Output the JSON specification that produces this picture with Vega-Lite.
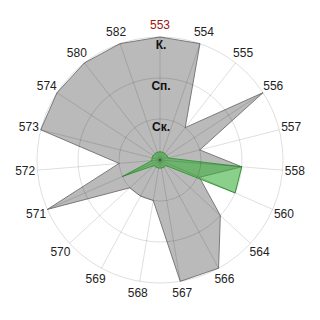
{
  "$schema": "https://vega.github.io/schema/vega-lite/v6.json",
  "width": 320,
  "height": 320,
  "autosize": {"type": "fit", "contains": "padding"},
  "padding": 0,
  "config": {"view": {"stroke": null}, "font": "Liberation Sans"},
  "datasets": {
    "cats": [
      {"cat": "553", "i": 0, "gray": 3, "green": 0.2},
      {"cat": "554", "i": 1, "gray": 3, "green": 0.2},
      {"cat": "555", "i": 2, "gray": 1, "green": 0.2},
      {"cat": "556", "i": 3, "gray": 3, "green": 0.2},
      {"cat": "557", "i": 4, "gray": 1, "green": 0.2},
      {"cat": "558", "i": 5, "gray": 2, "green": 2},
      {"cat": "560", "i": 6, "gray": 1.05, "green": 2},
      {"cat": "564", "i": 7, "gray": 2, "green": 0.2},
      {"cat": "566", "i": 8, "gray": 3, "green": 0.2},
      {"cat": "567", "i": 9, "gray": 3, "green": 0.2},
      {"cat": "568", "i": 10, "gray": 1, "green": 0.2},
      {"cat": "569", "i": 11, "gray": 1, "green": 0.2},
      {"cat": "570", "i": 12, "gray": 1, "green": 0.2},
      {"cat": "571", "i": 13, "gray": 3, "green": 1},
      {"cat": "572", "i": 14, "gray": 1, "green": 0.2},
      {"cat": "573", "i": 15, "gray": 3, "green": 0.2},
      {"cat": "574", "i": 16, "gray": 3, "green": 0.2},
      {"cat": "580", "i": 17, "gray": 3, "green": 0.2},
      {"cat": "582", "i": 18, "gray": 3, "green": 0.2}
    ],
    "rings": [
      {"r": 1, "lab": "Ск."},
      {"r": 2, "lab": "Сп."},
      {"r": 3, "lab": "К."}
    ]
  },
  "layer": [
    {
      "data": {"name": "cats"},
      "transform": [
        {"calculate": "datum.i*2*PI/19", "as": "a"},
        {"calculate": "datum.gray*sin(datum.a)", "as": "px"},
        {"calculate": "datum.gray*cos(datum.a)", "as": "py"}
      ],
      "mark": {"type": "line", "interpolate": "linear-closed", "fill": "#bababa", "stroke": "#7a7a7a", "strokeWidth": 1},
      "encoding": {
        "x": {"field": "px", "type": "quantitative", "scale": {"domain": [-3.902, 3.902], "nice": false, "zero": false}, "axis": null},
        "y": {"field": "py", "type": "quantitative", "scale": {"domain": [-3.902, 3.902], "nice": false, "zero": false}, "axis": null},
        "order": {"field": "i", "type": "quantitative"}
      }
    },
    {
      "data": {"name": "cats"},
      "transform": [
        {"calculate": "datum.i*2*PI/19", "as": "a"},
        {"calculate": "datum.green*sin(datum.a)", "as": "px"},
        {"calculate": "datum.green*cos(datum.a)", "as": "py"}
      ],
      "mark": {"type": "line", "interpolate": "linear-closed", "fill": "#3cb03c", "fillOpacity": 0.6, "stroke": "#3a9a3a", "strokeWidth": 1},
      "encoding": {
        "x": {"field": "px", "type": "quantitative"},
        "y": {"field": "py", "type": "quantitative"},
        "order": {"field": "i", "type": "quantitative"}
      }
    },
    {
      "data": {"name": "rings"},
      "transform": [
        {"calculate": "0", "as": "c"}
      ],
      "mark": {"type": "point", "shape": "circle", "filled": false, "stroke": "#000000", "strokeOpacity": 0.13, "strokeWidth": 1, "opacity": 1},
      "encoding": {
        "x": {"field": "c", "type": "quantitative"},
        "y": {"field": "c", "type": "quantitative"},
        "size": {"field": "r", "type": "quantitative", "scale": {"type": "pow", "exponent": 2, "domain": [0, 3.902], "range": [0, 102400], "zero": true}, "legend": null}
      }
    },
    {
      "data": {"name": "cats"},
      "transform": [
        {"calculate": "datum.i*2*PI/19", "as": "a"},
        {"calculate": "3*sin(datum.a)", "as": "sx"},
        {"calculate": "3*cos(datum.a)", "as": "sy"}
      ],
      "mark": {"type": "rule", "stroke": "#000000", "strokeOpacity": 0.13, "strokeWidth": 1},
      "encoding": {
        "x": {"field": "sx", "type": "quantitative"},
        "y": {"field": "sy", "type": "quantitative"},
        "x2": {"datum": 0},
        "y2": {"datum": 0}
      }
    },
    {
      "data": {"name": "cats"},
      "transform": [
        {"calculate": "datum.i*2*PI/19", "as": "a"},
        {"calculate": "3.3*sin(datum.a)", "as": "lx"},
        {"calculate": "3.3*cos(datum.a)", "as": "ly"}
      ],
      "mark": {"type": "text", "fontSize": 12, "align": "center", "baseline": "middle"},
      "encoding": {
        "x": {"field": "lx", "type": "quantitative"},
        "y": {"field": "ly", "type": "quantitative"},
        "text": {"field": "cat"},
        "color": {"condition": {"test": "datum.cat === '553'", "value": "#a01414"}, "value": "#222222"}
      }
    },
    {
      "data": {"name": "rings"},
      "transform": [
        {"calculate": "0", "as": "c"}
      ],
      "mark": {"type": "text", "fontSize": 12, "fontWeight": "bold", "align": "center", "baseline": "middle", "dy": 8, "dx": 1, "color": "#111111"},
      "encoding": {
        "x": {"field": "c", "type": "quantitative"},
        "y": {"field": "r", "type": "quantitative"},
        "text": {"field": "lab"}
      }
    }
  ]
}
